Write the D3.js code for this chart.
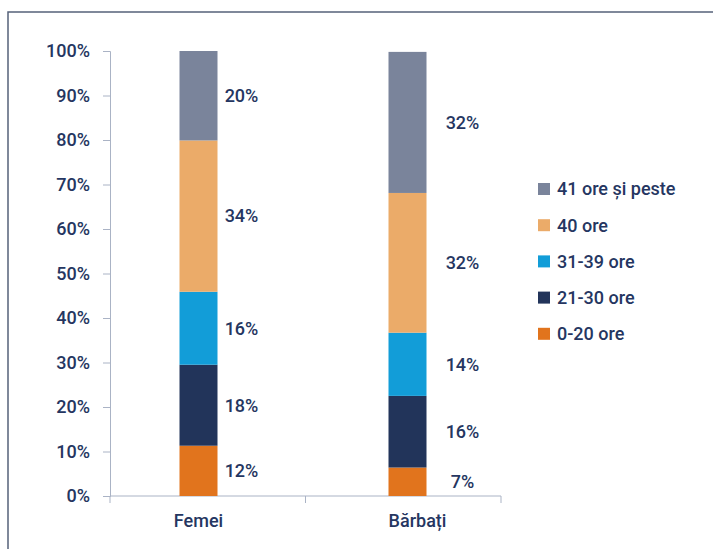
<!DOCTYPE html>
<html>
<head>
<meta charset="utf-8">
<script src="https://cdn.jsdelivr.net/npm/d3@7"></script>
<style>
  html, body { margin: 0; padding: 0; background: #fff; }
  svg { display: block; font-family: Roboto, "Noto Sans", sans-serif; }
</style>
</head>
<body>
<svg id="chart" width="713" height="549"></svg>
<script>
// ---- data ----
const categories = ["Femei", "Bărbați"];
const seriesNames = ["0-20 ore", "21-30 ore", "31-39 ore", "40 ore", "41 ore și peste"];
const femeiValues = [11.3, 18.2, 16.4, 34.0, 20.1];
const barbatiValues = [6.4, 16.1, 14.2, 31.4, 31.7];
const femeiLabels = ["12%", "18%", "16%", "34%", "20%"];
const barbatiLabels = ["7%", "16%", "14%", "32%", "32%"];
const yTicks = [0, 10, 20, 30, 40, 50, 60, 70, 80, 90, 100];
const colors = ["#e1741d", "#22345a", "#129dd8", "#ebab69", "#7a849b"];

const valuesByCat = { "Femei": femeiValues, "Bărbați": barbatiValues };
const labelsByCat = { "Femei": femeiLabels, "Bărbați": barbatiLabels };

const textColor = "#253661";
const axisColor = "#aab3c5";
const fontSize = "18px";

const svg = d3.select("#chart");

// frame
svg.append("rect")
  .attr("x", 8).attr("y", 12)
  .attr("width", 760).attr("height", 600)
  .attr("fill", "none").attr("stroke", "#56627a").attr("stroke-width", 1.5);

const plot = { left: 110, right: 501, top: 51, bottom: 496 };

const y = d3.scaleLinear().domain([0, 100]).range([plot.bottom, plot.top]);
const xAxisScale = d3.scaleBand().domain(categories).range([plot.left, plot.right]);
const xBar = d3.scaleBand().domain(categories).range([94, 512]);
const barW = 38;

// stacked data
const rows = categories.map(c => {
  const o = { cat: c };
  seriesNames.forEach((s, i) => o[s] = valuesByCat[c][i]);
  return o;
});
const stack = d3.stack().keys(seriesNames)(rows);

// y axis
const yAxis = d3.axisLeft(y).tickValues(yTicks).tickFormat(d => d + "%").tickSize(7).tickSizeOuter(7);
const gy = svg.append("g").attr("transform", `translate(${plot.left},0)`).call(yAxis);
gy.select(".domain").attr("stroke", axisColor);
gy.selectAll(".tick line").attr("stroke", axisColor);
gy.selectAll(".tick text")
  .attr("x", -20)
  .attr("fill", textColor)
  .style("font-size", fontSize).style("font-weight", 500)
  .style("font-family", "Roboto, sans-serif");

// x axis
const gx = svg.append("g").attr("transform", `translate(0,${plot.bottom})`);
gx.append("line").attr("x1", plot.left).attr("x2", plot.right)
  .attr("stroke", axisColor);
const edges = [plot.left].concat(categories.map(c => xAxisScale(c) + xAxisScale.bandwidth()));
gx.selectAll(".xt").data(edges).enter().append("line")
  .attr("x1", d => d).attr("x2", d => d).attr("y1", 0).attr("y2", 7)
  .attr("stroke", axisColor);
const catLabelDx = { "Femei": 0, "Bărbați": 10 };
gx.selectAll(".xl").data(categories).enter().append("text")
  .attr("x", d => xBar(d) + xBar.bandwidth() / 2 + catLabelDx[d])
  .attr("y", 31)
  .attr("text-anchor", "middle")
  .attr("fill", textColor)
  .style("font-size", fontSize).style("font-weight", 500)
  .text(d => d);

// bars
const barLeft = c => xBar(c) + xBar.bandwidth() / 2 - barW / 2;
stack.forEach((layer, i) => {
  svg.append("g").selectAll("rect").data(layer).enter().append("rect")
    .attr("x", d => barLeft(d.data.cat))
    .attr("width", barW)
    .attr("y", d => y(d[1]))
    .attr("height", d => y(d[0]) - y(d[1]))
    .attr("fill", colors[i]);
});

// value labels
const labelDx = { "Femei": 24, "Bărbați": 36 };
stack.forEach((layer, i) => {
  svg.append("g").selectAll("text").data(layer).enter().append("text")
    .attr("x", d => barLeft(d.data.cat) + barW + labelDx[d.data.cat])
    .attr("y", d => (y(d[0]) + y(d[1])) / 2)
    .attr("dy", "0.35em")
    .attr("text-anchor", "middle")
    .attr("fill", textColor)
    .style("font-size", fontSize).style("font-weight", 500)
    .text(d => labelsByCat[d.data.cat][i]);
});

// legend (top to bottom: reversed series order)
const legendOrder = seriesNames.map((s, i) => i).reverse();
const lg = svg.append("g").attr("transform", "translate(538,189)");
const li = lg.selectAll("g").data(legendOrder).enter().append("g")
  .attr("transform", (d, k) => `translate(0,${k * 36.2})`);
li.append("rect").attr("x", 0).attr("y", -6).attr("width", 12).attr("height", 12)
  .attr("fill", d => colors[d]);
li.append("text").attr("x", 19).attr("y", 0).attr("dy", "0.35em")
  .attr("fill", textColor)
  .style("font-size", fontSize).style("font-weight", 500)
  .text(d => seriesNames[d]);
</script>
</body>
</html>
